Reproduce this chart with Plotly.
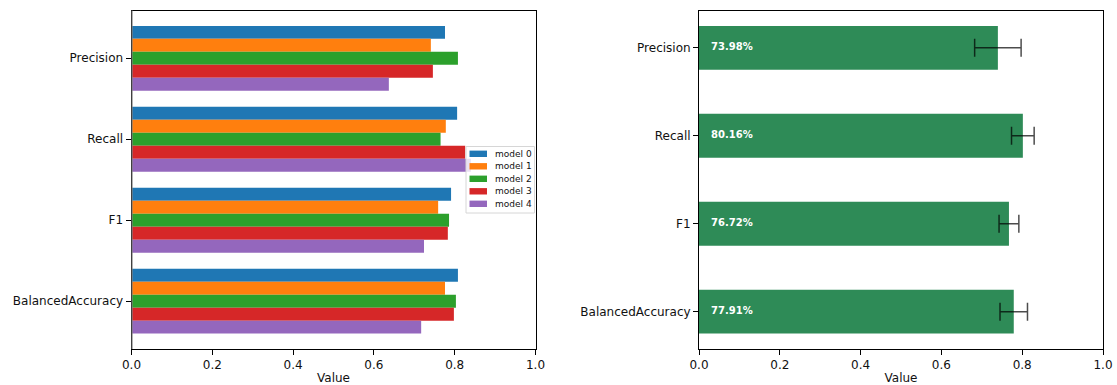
import plotly.graph_objects as go

# ---------------- data ----------------
metrics = ["Precision", "Recall", "F1", "BalancedAccuracy"]
model_names = ["model 0", "model 1", "model 2", "model 3", "model 4"]
model_0 = [0.776, 0.806, 0.791, 0.808]
model_1 = [0.741, 0.778, 0.759, 0.776]
model_2 = [0.808, 0.765, 0.786, 0.803]
model_3 = [0.746, 0.826, 0.783, 0.798]
model_4 = [0.637, 0.840, 0.724, 0.717]
model_scores = [model_0, model_1, model_2, model_3, model_4]
model_colors = ["#1f77b4", "#ff7f0e", "#2ca02c", "#d62728", "#9467bd"]

mean_scores = [0.7398, 0.8016, 0.7672, 0.7791]
score_errors = [0.0575, 0.028, 0.0245, 0.034]
x_ticks = [0.0, 0.2, 0.4, 0.6, 0.8, 1.0]

# ---------------- layout geometry (px) ----------------
W, H = 1117, 385
LEFT_AX = (131.5, 535.5)
RIGHT_AX = (699.0, 1103.0)
TOP, BOT = 10.5, 349.0
FONT = "DejaVu Sans"


def px_x(v):
    return v / W


def px_y(v):
    return 1 - v / H


fig = go.Figure()

for name, vals, col in zip(model_names, model_scores, model_colors):
    fig.add_trace(go.Bar(
        y=metrics, x=vals, orientation="h", name=name,
        marker=dict(color=col, line=dict(width=0)),
        xaxis="x", yaxis="y", showlegend=False,
    ))

fig.add_trace(go.Bar(
    y=metrics, x=mean_scores, orientation="h", width=0.5,
    marker=dict(color="#2e8b57", line=dict(width=0)),
    error_x=dict(type="data", array=score_errors, color="rgba(0,0,0,0.7)",
                 thickness=1.5, width=9),
    xaxis="x2", yaxis="y2", showlegend=False,
))

fig.add_trace(go.Scatter(
    y=metrics, x=[0.03] * len(metrics), mode="text",
    text=[f"{v * 100:.2f}%" for v in mean_scores],
    textposition="middle right",
    textfont=dict(color="white", size=10, family=FONT, weight="bold"),
    xaxis="x2", yaxis="y2", showlegend=False, hoverinfo="skip",
))

axis_common = dict(
    showline=True, mirror=True, linecolor="black", linewidth=1,
    ticks="outside", ticklen=5, tickwidth=1, tickcolor="black",
    showgrid=False, zeroline=False, automargin=False,
    tickfont=dict(family=FONT, size=12, color="#111"),
)

fig.update_layout(
    width=W, height=H, template="none",
    paper_bgcolor="white", plot_bgcolor="white",
    margin=dict(l=0, r=0, t=0, b=0),
    barmode="group", bargap=0.2, bargroupgap=0,
    showlegend=False,
    xaxis=dict(domain=[px_x(LEFT_AX[0]), px_x(LEFT_AX[1])], range=[0, 1],
               tickvals=x_ticks, tickformat=".1f", anchor="y",
               title=dict(text="Value", font=dict(family=FONT, size=12, color="#111"), standoff=4),
               **axis_common),
    yaxis=dict(domain=[px_y(BOT), px_y(TOP)], type="category",
               categoryorder="array", categoryarray=metrics,
               range=[3.59, -0.59], anchor="x", **axis_common),
    xaxis2=dict(domain=[px_x(RIGHT_AX[0]), px_x(RIGHT_AX[1])], range=[0, 1],
                tickvals=x_ticks, tickformat=".1f", anchor="y2",
                title=dict(text="Value", font=dict(family=FONT, size=12, color="#111"), standoff=4),
                **axis_common),
    yaxis2=dict(domain=[px_y(BOT), px_y(TOP)], type="category",
                categoryorder="array", categoryarray=metrics,
                range=[3.425, -0.425], anchor="x2", **axis_common),
)

shapes = [
    dict(type="line", xref="x", yref="y domain", x0=0, x1=0, y0=0, y1=1,
         line=dict(color="#808080", width=2.2), layer="above"),
]
annotations = []

# legend (matplotlib-style, center right inside left axes)
LG_BOX = (466.0, 146.5, 534.5, 213.0)
shapes.append(dict(type="rect", xref="paper", yref="paper",
                   x0=px_x(LG_BOX[0]), x1=px_x(LG_BOX[2]),
                   y0=px_y(LG_BOX[3]), y1=px_y(LG_BOX[1]),
                   fillcolor="rgba(255,255,255,0.8)",
                   line=dict(color="#d6d6d6", width=1), layer="above"))
row0, pitch = 153.8, 12.5
for i, (name, col) in enumerate(zip(model_names, model_colors)):
    cy = row0 + i * pitch
    shapes.append(dict(type="rect", xref="paper", yref="paper",
                       x0=px_x(469.5), x1=px_x(487.0),
                       y0=px_y(cy + 3.2), y1=px_y(cy - 3.2),
                       fillcolor=col, line=dict(width=0), layer="above"))
    annotations.append(dict(xref="paper", yref="paper", x=px_x(493.0), y=px_y(cy),
                            text=name, showarrow=False, xanchor="left", yanchor="middle",
                            font=dict(family=FONT, size=9, color="#111")))

fig.update_layout(shapes=shapes, annotations=annotations)

fig.write_html("out.html")
